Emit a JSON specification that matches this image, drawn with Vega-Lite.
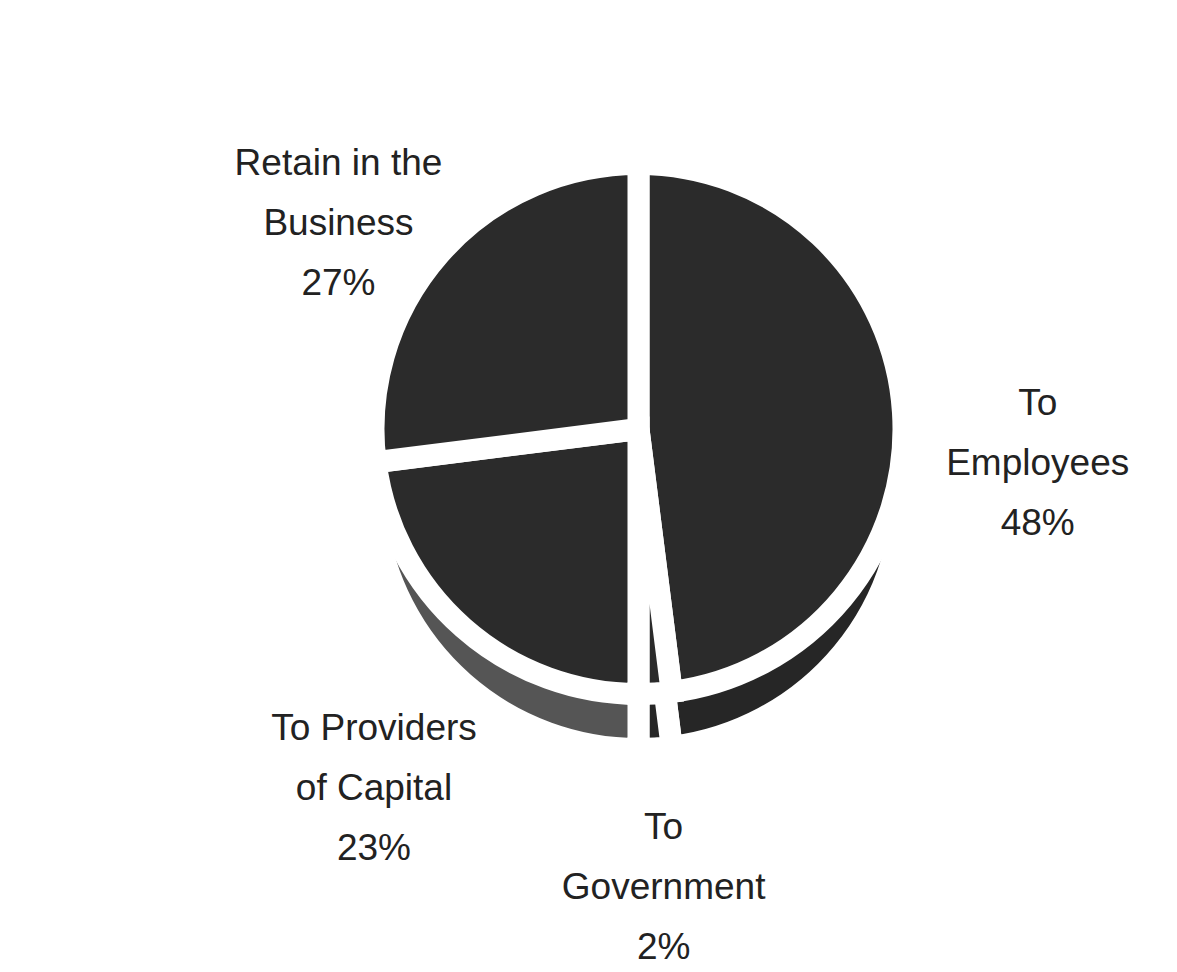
{
  "$schema": "https://vega.github.io/schema/vega-lite/v6.json",
  "width": 1177,
  "height": 972,
  "autosize": {"type": "fit", "contains": "padding"},
  "padding": {"left": 100, "top": 0, "right": 0, "bottom": 62},
  "background": "white",
  "config": {"view": {"stroke": null}},
  "data": {
    "values": [
      {"category": "To Employees", "share": 48, "order": 1, "label": "To\nEmployees\n48%"},
      {"category": "To Government", "share": 2, "order": 2, "label": "To\nGovernment\n2%"},
      {"category": "To Providers of Capital", "share": 23, "order": 3, "label": "To Providers\nof Capital\n23%"},
      {"category": "Retain in the Business", "share": 27, "order": 4, "label": "Retain in the\nBusiness\n27%"}
    ]
  },
  "encoding": {
    "theta": {"field": "share", "type": "quantitative", "stack": true},
    "order": {"field": "order", "type": "quantitative"}
  },
  "layer": [
    {
      "mark": {"type": "arc", "outerRadius": 265, "yOffset": 55, "stroke": "white", "strokeWidth": 22},
      "encoding": {
        "color": {
          "field": "category", "type": "nominal", "legend": null,
          "scale": {
            "domain": ["To Employees", "To Government", "To Providers of Capital", "Retain in the Business"],
            "range": ["#262626", "#262626", "#555555", "#555555"]
          }
        }
      }
    },
    {
      "mark": {"type": "arc", "outerRadius": 265, "stroke": "white", "strokeWidth": 22, "fill": "#2b2b2b"},
      "encoding": {
        "color": {"value": "#2b2b2b"}
      }
    },
    {
      "mark": {"type": "text", "radius": 400, "lineBreak": "\n", "font": "Liberation Sans", "fontSize": 37, "fill": "#222", "align": "center", "baseline": "middle", "lineHeight": 60},
      "encoding": {
        "text": {"field": "label", "type": "nominal"}
      }
    }
  ]
}
